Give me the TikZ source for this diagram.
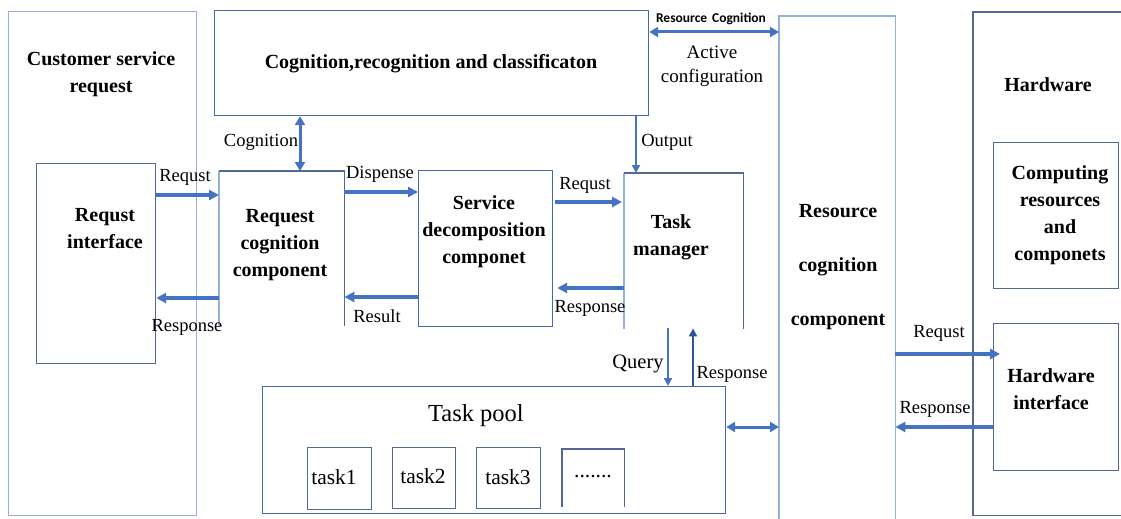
\documentclass[tikz,border=0pt]{standalone}
\usepackage{fontspec}
\setmainfont{Liberation Serif}
\newfontfamily\carlitofont{Carlito}
\usetikzlibrary{arrows.meta}
\definecolor{boxlight}{RGB}{150,175,222}
\definecolor{boxdark}{RGB}{84,104,152}
\definecolor{boxmid}{RGB}{72,104,172}
\definecolor{arrblue}{RGB}{68,114,196}
\definecolor{arrdark}{RGB}{47,85,151}
\begin{document}
\begin{tikzpicture}[x=1pt,y=-1pt,
  box/.style={draw=#1, line width=1.2pt, inner sep=0pt, anchor=north west},
  box/.default=boxdark,
  shell/.style={inner sep=0pt, anchor=north west},
  edge/.style={draw=#1, line width=1.2pt},
  edge/.default=boxdark,
  main/.style={font=\bfseries\fontsize{20}{27}\selectfont, align=center, inner sep=0pt},
  lbl/.style={font=\fontsize{18.5}{21}\selectfont, inner sep=0pt},
  arr/.style={draw=arrblue, line width=3.2pt, -{Triangle[length=10pt,width=10pt]}},
  darr/.style={draw=arrblue, line width=3pt, {Triangle[length=9pt,width=10pt]}-{Triangle[length=9pt,width=10pt]}},
  thinarr/.style={draw=#1, line width=2.2pt, -{Triangle[length=8pt,width=8pt]}},
  thinarr/.default=arrblue,
  tsk/.style={font=\fontsize{21.5}{24}\selectfont, inner sep=0pt}
]
\useasboundingbox (0,0) rectangle (1121,519);

% ---------- boxes ----------
\node[box=boxlight, minimum width=188pt, minimum height=504pt] (cust) at (8,11) {};
\node[box, minimum width=119pt, minimum height=200pt] (reqif) at (36,163) {};
\node[box=boxmid, minimum width=434pt, minimum height=105pt] (cogbox) at (214,10) {};
\node[shell, minimum width=125pt, minimum height=155pt] (reqcog) at (219,171) {};
\draw[edge=boxlight] (reqcog.south west) -- (reqcog.north west);
\draw[edge] (reqcog.north west) -- (reqcog.north east) -- (reqcog.south east);
\node[box=boxmid, minimum width=134pt, minimum height=156pt] (servdec) at (418,170) {};
\node[shell, minimum width=119pt, minimum height=156pt] (taskmgr) at (624,173) {};
\draw[edge=boxlight] (taskmgr.south west) -- (taskmgr.north west);
\draw[edge] (taskmgr.north west) -- (taskmgr.north east) -- (taskmgr.south east);
\node[shell, minimum width=116pt, minimum height=503pt] (rescog) at (779,16) {};
\draw[edge=boxlight] (rescog.south west) -- (rescog.north west) -- (rescog.north east) -- (rescog.south east);
\node[shell, minimum width=148pt, minimum height=503pt] (hw) at (973,12) {};
\draw[edge] (hw.north east) -- (hw.north west) -- (hw.south west) -- (hw.south east);
\node[box, minimum width=125pt, minimum height=146pt] (comp) at (993,142) {};
\node[box, minimum width=125pt, minimum height=147pt] (hwif) at (993,323) {};
\node[box=boxmid, minimum width=463pt, minimum height=127pt] (pool) at (262,386) {};
\node[box, minimum width=64pt, minimum height=62pt] (t1) at (307,447) {};
\node[box, minimum width=63pt, minimum height=61pt] (t2) at (392,447) {};
\node[box, minimum width=64pt, minimum height=61pt] (t3) at (476,447) {};
\node[shell, minimum width=62pt, minimum height=58pt] (tdots) at (562,449) {};
\draw[edge] (tdots.south west) -- (tdots.north west) -- (tdots.north east) -- (tdots.south east);

% ---------- box texts ----------
\node[main] (custT) at (101,74) {Customer service\\request};
\node[main] (reqifT) at (105,229) {Requst\\interface};
\node[main] (cogT) at (431,64) {Cognition,recognition and classificaton};
\node[main] (reqcogT) at (280,245) {Request\\cognition\\component};
\node[main] (servT) at (484,232) {Service\\decomposition\\componet};
\node[main] (tmT) at (671,237) {Task\\manager};
\node[main, font=\bfseries\fontsize{20}{54}\selectfont] (rescogT) at (838,267) {Resource\\cognition\\component};
\node[main] (hwT) at (1048,85) {Hardware};
\node[main] (compT) at (1060,215) {Computing\\resources\\and\\componets};
\node[main] (hwifT) at (1051,389) {Hardware\\interface};
\node[inner sep=0pt, font=\fontsize{24.5}{28}\selectfont] (poolT) at (476,416) {Task pool};
\node[tsk] (t1T) at (334,477) {task1};
\node[tsk] (t2T) at (423,476) {task2};
\node[tsk] (t3T) at (508,477) {task3};
\node[tsk] (tdT) at (593,477) {.......};

% ---------- arrow levels ----------
\coordinate (yReqA) at (0,195);
\coordinate (yRespA) at (0,298);
\coordinate (yDisp) at (0,192);
\coordinate (yRes) at (0,297);
\coordinate (yReqB) at (0,202);
\coordinate (yRespB) at (0,288);
\coordinate (yRC) at (0,32);
\coordinate (yPR) at (0,427);
\coordinate (yReqC) at (0,354);
\coordinate (yRespC) at (0,427);
\coordinate (xCog) at (300,0);
\coordinate (xOut) at (636,0);
\coordinate (xQ) at (668,0);
\coordinate (xRsp) at (693,0);

% ---------- arrows ----------
\draw[arr] (reqif.east |- yReqA) -- (reqcog.west |- yReqA);
\draw[arr] (reqcog.west |- yRespA) -- (reqif.east |- yRespA);
\draw[darr] (cogbox.south -| xCog) -- (reqcog.north -| xCog);
\draw[arr] (reqcog.east |- yDisp) -- (servdec.west |- yDisp);
\draw[arr] (servdec.west |- yRes) -- (reqcog.east |- yRes);
\draw[arr] ([xshift=2pt]servdec.east |- yReqB) -- ([xshift=-2pt]taskmgr.west |- yReqB);
\draw[arr] (taskmgr.west |- yRespB) -- ([xshift=4pt]servdec.east |- yRespB);
\draw[thinarr] (cogbox.south -| xOut) -- (taskmgr.north -| xOut);
\draw[darr] (cogbox.east |- yRC) -- (rescog.west |- yRC);
\draw[thinarr] ([yshift=1pt]taskmgr.south -| xQ) -- (pool.north -| xQ);
\draw[thinarr=arrdark] (pool.north -| xRsp) -- ([yshift=1pt]taskmgr.south -| xRsp);
\draw[darr] (pool.east |- yPR) -- (rescog.west |- yPR);
\draw[arr] (rescog.east |- yReqC) -- ([xshift=7pt]hwif.west |- yReqC);
\draw[arr] (hwif.west |- yRespC) -- (rescog.east |- yRespC);

% ---------- labels ----------
\node[lbl] (lReqA) at (185,177) {Requst};
\node[lbl] (lRespA) at (187,327) {Response};
\node[lbl] (lCog) at (261,142) {Cognition};
\node[lbl] (lDisp) at (380,174) {Dispense};
\node[lbl] (lRes) at (377,316) {Result};
\node[lbl] (lReqB) at (585,185) {Requst};
\node[lbl] (lRespB) at (590,308) {Response};
\node[lbl] (lOut) at (667,142) {Output};
\node[lbl, font=\fontsize{20.5}{24}\selectfont] (lQ) at (638,364) {Query};
\node[lbl] (lRespQ) at (732,374) {Response};
\node[lbl] (lReqC) at (939,333) {Requst};
\node[lbl] (lRespC) at (935,409) {Response};
\node[lbl, align=center, font=\fontsize{19}{24}\selectfont] (lAct) at (712,66) {Active\\configuration};
\node[inner sep=0pt, font=\carlitofont\bfseries\fontsize{13.5}{15}\selectfont] (lRC) at (711,19) {Resource\hspace{5pt}Cognition};
\end{tikzpicture}
\end{document}
